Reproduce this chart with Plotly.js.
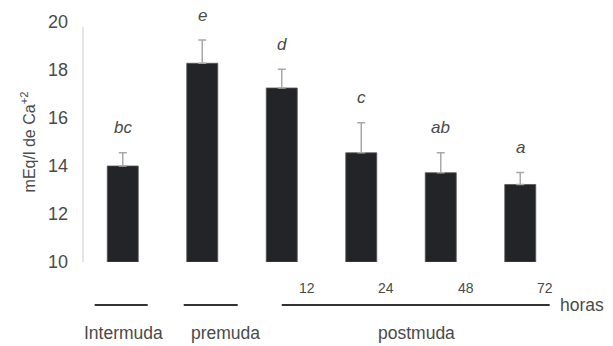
<!DOCTYPE html>
<html>
<head>
<meta charset="utf-8">
<script src="https://cdn.plot.ly/plotly-3.0.1.min.js"></script>
<style>html,body{margin:0;padding:0;background:#fff;}#chart{width:613px;height:346px;}</style>
</head>
<body>
<div id="chart"></div>
<script>
// Data
const categories = ['Intermuda', 'premuda', '12', '24', '48', '72'];
const values = [14.0, 18.28, 17.25, 14.55, 13.72, 13.23];
const errors = [0.55, 0.97, 0.78, 1.25, 0.83, 0.5];
const letters = ['bc', 'e', 'd', 'c', 'ab', 'a'];
const hourLabels = ['12', '24', '48', '72'];
const groupLabels = ['Intermuda', 'premuda', 'postmuda'];
const yTicks = [10, 12, 14, 16, 18, 20];

const textColor = '#4a4a4a';
const fontFam = 'Liberation Sans, Arial, sans-serif';

const trace = {
  type: 'bar',
  x: categories,
  y: values.map(v => v - 10),
  base: 10,
  marker: { color: '#222428', line: { color: '#555', width: 0.8 } },
  error_y: { type: 'data', array: errors, arrayminus: errors.map(() => 0), symmetric: false,
             color: '#a8a8a8', thickness: 1.5, width: 4 },
  hoverinfo: 'skip'
};

const annotations = [];
letters.forEach((t, i) => {
  annotations.push({ x: i, y: values[i] + errors[i], xref: 'x', yref: 'y',
    text: '<i>' + t + '</i>', showarrow: false, yanchor: 'middle', yshift: 25,
    font: { family: fontFam, size: 17, color: textColor } });
});
hourLabels.forEach(h => {
  const idx = categories.indexOf(h);
  annotations.push({ x: idx, y: -0.108, xref: 'x', yref: 'paper', xshift: 25,
    text: h, showarrow: false, yanchor: 'middle', font: { family: fontFam, size: 14, color: textColor } });
});
const groupX = [0.01, 1.29, 3.70];
groupLabels.forEach((g, i) => {
  annotations.push({ x: groupX[i], y: -0.296, xref: 'x', yref: 'paper',
    text: g, showarrow: false, yanchor: 'middle', font: { family: fontFam, size: 17.5, color: textColor } });
});
annotations.push({ x: 5.48, y: -0.179, xref: 'x', yref: 'paper', xanchor: 'left',
  text: 'horas', showarrow: false, yanchor: 'middle', font: { family: fontFam, size: 17.5, color: textColor } });

const lineSpans = [[-0.353, 0.314], [0.767, 1.446], [2.0, 5.37]];
const shapes = lineSpans.map(s => ({ type: 'line', xref: 'x', yref: 'paper', x0: s[0], x1: s[1],
  y0: -0.179, y1: -0.179, line: { color: '#333', width: 2 } }));
shapes.push({ type: 'line', xref: 'paper', yref: 'y', x0: 0, x1: 0, y0: 10, y1: 19.8,
  line: { color: '#d4d4d4', width: 1.2 } });

const layout = {
  width: 613, height: 346,
  margin: { l: 83, r: 53, t: 22, b: 84 },
  paper_bgcolor: '#fff', plot_bgcolor: '#fff',
  showlegend: false,
  bargap: 0.61,
  xaxis: { type: 'category', range: [-0.5, 5.5], showticklabels: false, showgrid: false,
           zeroline: false, showline: false, ticks: '', fixedrange: true },
  yaxis: { range: [10, 20], tickvals: yTicks, ticktext: yTicks.map(String), showgrid: false,
           zeroline: false, showline: false, ticks: '', ticklabelstandoff: 14,
           tickfont: { family: fontFam, size: 18, color: textColor },
           title: { text: 'mEq/l de Ca<sup>+2</sup>', standoff: 8, font: { family: fontFam, size: 16, color: textColor } } },
  annotations: annotations,
  shapes: shapes
};

Plotly.newPlot('chart', [trace], layout, { staticPlot: true, displayModeBar: false });
</script>
</body>
</html>
